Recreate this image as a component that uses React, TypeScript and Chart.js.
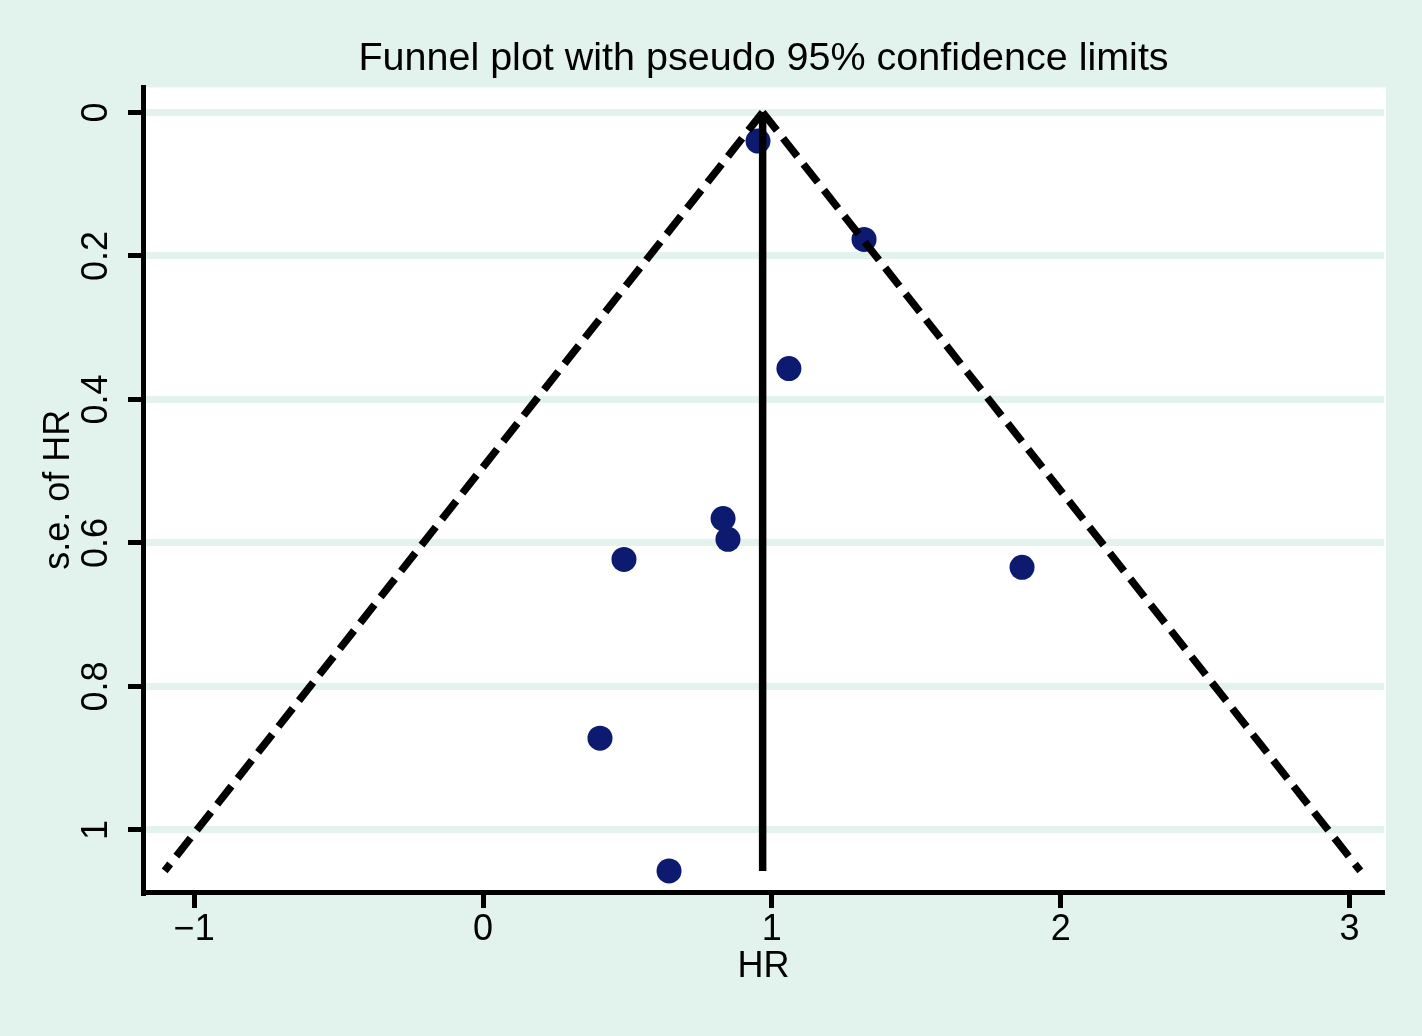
import React, { useEffect, useRef } from "react";
import { Chart, registerables } from "chart.js";

Chart.register(...registerables);

// ---- data ----
const studyHR = [0.952, 1.319, 1.059, 0.831, 0.848, 0.488, 1.866, 0.405, 0.644];
const studySE = [0.040, 0.177, 0.357, 0.566, 0.595, 0.623, 0.634, 0.872, 1.057];
const pooledHR = 0.968;
const funnelSE = [0, 1.057];
const funnelLeftHR = [0.968, -1.102];
const funnelRightHR = [0.968, 3.037];
const xTickValues = [-1, 0, 1, 2, 3];
const yTickValues = [0, 0.2, 0.4, 0.6, 0.8, 1];
const yTickLabels = ["0", "0.2", "0.4", "0.6", "0.8", "1"];
const titleText = "Funnel plot with pseudo 95% confidence limits";
const xTitle = "HR";
const yTitle = "s.e. of HR";

const BG = "#e2f2ec";
const GRID = "#e2f2ec";
const NAVY = "#0c1a70";
const FONT = "'Liberation Sans', Arial, Helvetica, sans-serif";

export default function App() {
  const ref = useRef<HTMLCanvasElement | null>(null);

  useEffect(() => {
    document.body.style.margin = "0";
    const canvas = ref.current;
    if (!canvas) return;

    const bgPlugin = {
      id: "bgPlugin",
      beforeDraw(chart: any) {
        const { ctx, chartArea } = chart;
        ctx.save();
        ctx.fillStyle = BG;
        ctx.fillRect(0, 0, chart.width, chart.height);
        ctx.fillStyle = "#ffffff";
        ctx.fillRect(chartArea.left, chartArea.top, chartArea.right - chartArea.left + 2, chartArea.bottom - chartArea.top);
        ctx.restore();
      },
    };

    const points = studyHR.map((x, i) => ({ x, y: studySE[i] }));
    const leftLine = funnelSE.map((y, i) => ({ x: funnelLeftHR[i], y }));
    const rightLine = funnelSE.map((y, i) => ({ x: funnelRightHR[i], y }));
    const centerLine = funnelSE.map((y) => ({ x: pooledHR, y }));

    const lineCommon = {
      showLine: true,
      pointRadius: 0,
      pointHoverRadius: 0,
      borderColor: "#000000",
      borderWidth: 7.5,
      borderCapStyle: "butt",
      fill: false,
      order: 0,
    };

    const chart = new Chart(canvas, {
      type: "scatter",
      data: {
        datasets: [
          { ...lineCommon, label: "lower limit", data: leftLine, borderDash: [23, 10] },
          { ...lineCommon, label: "upper limit", data: rightLine, borderDash: [23, 10] },
          { ...lineCommon, label: "pooled", data: centerLine },
          {
            label: "studies",
            data: points,
            pointRadius: 12.5,
            pointHoverRadius: 12.5,
            pointBackgroundColor: NAVY,
            pointBorderWidth: 0,
            backgroundColor: NAVY,
            borderColor: NAVY,
            order: 1,
          },
        ],
      },
      options: {
        responsive: false,
        animation: false,
        devicePixelRatio: 1,
        layout: { padding: { left: 0, right: 38, top: 0, bottom: 0 } },
        plugins: {
          legend: { display: false },
          tooltip: { enabled: false },
          title: {
            display: true,
            text: titleText,
            fullSize: false,
            color: "#000000",
            font: { family: FONT, size: 39.5, weight: "normal" },
            padding: { top: 35, bottom: 5 },
          },
        },
        scales: {
          x: {
            type: "linear",
            min: -1.177,
            max: 3.119,
            afterBuildTicks: (scale: any) => {
              scale.ticks = xTickValues.map((v) => ({ value: v }));
            },
            afterFit: (scale: any) => {
              scale.height = 144;
            },
            grid: {
              display: true,
              drawOnChartArea: false,
              drawTicks: true,
              tickLength: 16,
              tickWidth: 5,
              tickColor: "#000000",
            },
            border: { display: true, color: "#000000", width: 5 },
            ticks: {
              autoSkip: false,
              maxRotation: 0,
              padding: 0,
              color: "#000000",
              font: { family: FONT, size: 36 },
              callback: (v: any) => (Number(v) < 0 ? "\u2212" + Math.abs(Number(v)) : String(v)),
            },
            title: {
              display: true,
              text: xTitle,
              color: "#000000",
              font: { family: FONT, size: 36 },
              padding: { top: 0, bottom: 47 },
            },
          },
          y: {
            type: "linear",
            reverse: true,
            min: -0.0348,
            max: 1.0864,
            afterBuildTicks: (scale: any) => {
              scale.ticks = yTickValues.map((v) => ({ value: v }));
            },
            afterFit: (scale: any) => {
              scale.width = 143;
            },
            grid: {
              display: true,
              drawOnChartArea: true,
              color: GRID,
              lineWidth: 7,
              drawTicks: true,
              tickLength: 15,
              tickWidth: 5,
              tickColor: "#000000",
            },
            border: { display: true, color: "#000000", width: 5 },
            ticks: {
              autoSkip: false,
              minRotation: 90,
              maxRotation: 90,
              crossAlign: "center",
              padding: 6,
              color: "#000000",
              font: { family: FONT, size: 36 },
              callback: (_v: any, i: number) => yTickLabels[i],
            },
            title: {
              display: true,
              text: yTitle,
              color: "#000000",
              font: { family: FONT, size: 36 },
              padding: { top: 37, bottom: 0 },
            },
          },
        },
      },
      plugins: [bgPlugin],
    } as any);

    return () => chart.destroy();
  }, []);

  return (
    <div
      style={{
        position: "fixed",
        left: 0,
        top: 0,
        width: 1422,
        height: 1036,
        background: BG,
      }}
    >
      <canvas ref={ref} width={1422} height={1036} style={{ width: 1422, height: 1036, display: "block" }} />
    </div>
  );
}
